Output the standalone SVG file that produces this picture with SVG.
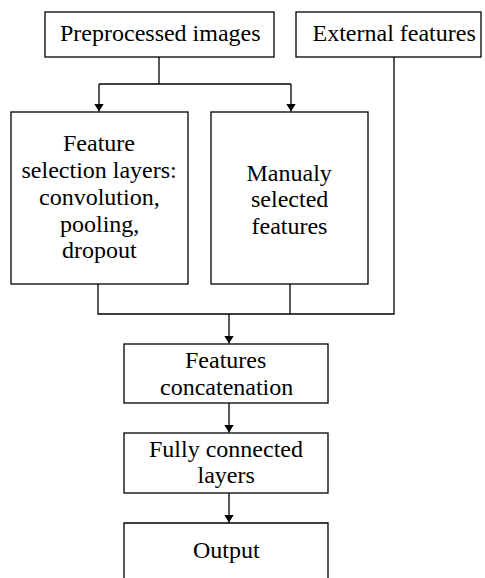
<svg xmlns="http://www.w3.org/2000/svg" width="485" height="578" viewBox="0 0 485 578">
<defs>
<marker id="ah" markerWidth="8" markerHeight="10" refX="8" refY="5" orient="auto" markerUnits="userSpaceOnUse" viewBox="0 0 8 10">
<path d="M0,0 L8,5 L0,10 z" fill="#000"/>
</marker>
</defs>
<rect width="485" height="578" fill="#fff"/>
<g id="connectors" fill="none" stroke="#000" stroke-width="1.3">
<path d="M159,57 V84"/>
<path d="M99,84 H291"/>
<path d="M99,84 V111.5" marker-end="url(#ah)"/>
<path d="M291,84 V111.5" marker-end="url(#ah)"/>
<path d="M394,57 V314 H98 V284"/>
<path d="M290,284 V314"/>
<path d="M229,314 V343.5" marker-end="url(#ah)"/>
<path d="M229,403 V432.5" marker-end="url(#ah)"/>
<path d="M229,493 V522.5" marker-end="url(#ah)"/>
</g>
<g id="preprocessed">
<rect x="45" y="12" width="229" height="45" fill="#fff" stroke="#000" stroke-width="1.3"/>
<text font-family="Liberation Serif" font-size="24" x="60" y="41">Preprocessed images</text>
</g>
<g id="external">
<rect x="296" y="12" width="185" height="45" fill="#fff" stroke="#000" stroke-width="1.3"/>
<text font-family="Liberation Serif" font-size="24" x="312.5" y="41">External features</text>
</g>
<g id="featsel">
<rect x="11" y="112" width="177" height="172" fill="#fff" stroke="#000" stroke-width="1.3"/>
<text font-family="Liberation Serif" font-size="24" x="63" y="151">Feature</text>
<text font-family="Liberation Serif" font-size="24" x="21.5" y="178">selection layers:</text>
<text font-family="Liberation Serif" font-size="24" x="39" y="205">convolution,</text>
<text font-family="Liberation Serif" font-size="24" x="60" y="232">pooling,</text>
<text font-family="Liberation Serif" font-size="24" x="62" y="258">dropout</text>
</g>
<g id="manual">
<rect x="211" y="112" width="157" height="172" fill="#fff" stroke="#000" stroke-width="1.3"/>
<text font-family="Liberation Serif" font-size="24" x="246.5" y="181">Manualy</text>
<text font-family="Liberation Serif" font-size="24" x="251" y="207">selected</text>
<text font-family="Liberation Serif" font-size="24" x="251.5" y="234">features</text>
</g>
<g id="concat">
<rect x="124" y="344" width="204" height="59" fill="#fff" stroke="#000" stroke-width="1.3"/>
<text font-family="Liberation Serif" font-size="24" x="185" y="368">Features</text>
<text font-family="Liberation Serif" font-size="24" x="160" y="395">concatenation</text>
</g>
<g id="fc">
<rect x="124" y="433" width="204" height="60" fill="#fff" stroke="#000" stroke-width="1.3"/>
<text font-family="Liberation Serif" font-size="24" x="149" y="457">Fully connected</text>
<text font-family="Liberation Serif" font-size="24" x="197.5" y="483">layers</text>
</g>
<g id="output">
<path d="M124,580 V523 H328 V580" fill="#fff" stroke="#000" stroke-width="1.3"/>
<text font-family="Liberation Serif" font-size="24" x="193" y="558">Output</text>
</g>
</svg>
